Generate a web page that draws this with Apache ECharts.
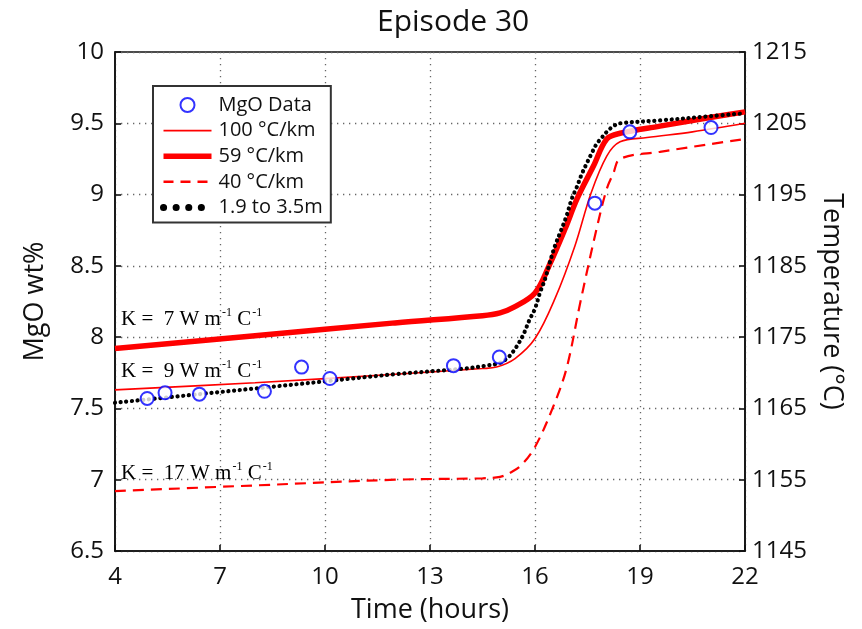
<!DOCTYPE html>
<html>
<head>
<meta charset="utf-8">
<script src="https://cdn.jsdelivr.net/npm/echarts@6/dist/echarts.min.js"></script>
<style>html,body{margin:0;padding:0;background:#fff}#c{width:862px;height:629px}</style>
</head>
<body>
<div id="c"></div>
<script>
// ---- data (hours, MgO wt%) ----
const dataHours = [4.92, 5.43, 6.41, 8.27, 9.33, 10.14, 13.67, 14.98, 17.71, 18.71, 21.03];
const dataMgO   = [7.57, 7.61, 7.60, 7.62, 7.79, 7.71, 7.80, 7.86, 8.94, 9.44, 9.47];

const k100Hours = [4, 8, 12, 14.5, 14.9, 15.43, 16.0, 16.57, 17.14, 17.6, 18.05, 18.43, 19.2, 20.5, 22];
const k100MgO   = [7.63, 7.68, 7.74, 7.78, 7.79, 7.85, 7.99, 8.27, 8.64, 9.01, 9.27, 9.37, 9.40, 9.44, 9.50];

const k59Hours = [4, 8, 12, 14.5, 15.0, 15.4, 16.0, 16.4, 16.86, 17.2, 17.67, 18.05, 18.43, 19.57, 21, 22];
const k59MgO   = [7.92, 8.01, 8.10, 8.15, 8.17, 8.21, 8.31, 8.50, 8.76, 8.97, 9.20, 9.39, 9.43, 9.48, 9.54, 9.58];

const k40Hours = [4, 8, 12, 14.5, 15.0, 15.3, 15.6, 16.0, 16.5, 16.9, 17.3, 17.76, 18.05, 18.24, 18.43, 19.57, 22];
const k40MgO   = [6.92, 6.96, 7.00, 7.01, 7.02, 7.05, 7.10, 7.23, 7.50, 7.78, 8.25, 8.76, 9.04, 9.15, 9.25, 9.30, 9.39];

const depthHours = [4, 6, 8, 10, 12, 14, 14.6, 15.0, 15.24, 15.38, 15.54, 15.69, 15.84, 16.0, 16.14, 16.29, 16.43, 16.57, 16.73, 16.90, 17.05, 17.19, 17.33, 17.48, 17.62, 17.76, 17.91, 18.05, 18.24, 18.43, 19.57, 21, 22];
const depthMgO   = [7.54, 7.59, 7.64, 7.69, 7.74, 7.78, 7.80, 7.82, 7.86, 7.90, 7.96, 8.03, 8.12, 8.20, 8.31, 8.41, 8.53, 8.64, 8.74, 8.85, 8.97, 9.05, 9.14, 9.22, 9.29, 9.355, 9.40, 9.44, 9.48, 9.50, 9.52, 9.55, 9.57];

const seriesNames = ['MgO Data', '100 \u00B0C/km', '59 \u00B0C/km', '40 \u00B0C/km', '1.9 to 3.5m'];
const kLabels = ['7', '9', '17'];

const pairs = (xs, ys) => xs.map((x, i) => [x, ys[i]]);

const FONT = '"Open Sans", "DejaVu Sans", sans-serif';
const SERIF = '"Liberation Serif", "DejaVu Serif", serif';
const RED = '#ff0000';

const chart = echarts.init(document.getElementById('c'), null, {renderer: 'canvas'});

function kText(k) {
  return '{a|K =  ' + k + ' W m}{s|-1}{a| C}{s|-1}';
}
const kRich = {
  a: {fontFamily: SERIF, fontSize: 21, color: '#111'},
  s: {fontFamily: SERIF, fontSize: 12, color: '#111', padding: [0, 0, 12, 1]}
};

const gridDot = {show: true, lineStyle: {color: '#666', width: 1.3, type: [1.3, 4.7]}};
const hideSym = {opacity: 0};

chart.setOption({
  animation: false,
  backgroundColor: '#fff',
  title: {
    text: 'Episode 30', left: 372, top: 2,
    textStyle: {fontFamily: FONT, fontSize: 30, fontWeight: 'normal', color: '#111'}
  },
  grid: {left: 115, right: 117, top: 52, bottom: 76, show: true, borderColor: '#111', borderWidth: 1.6, backgroundColor: 'transparent'},
  legend: {
    orient: 'vertical', left: 153, top: 86,
    padding: [7, 8, 3, 7], itemGap: 1.6, itemWidth: 48, itemHeight: 14,
    backgroundColor: '#fff', borderColor: '#333', borderWidth: 2, borderRadius: 0,
    textStyle: {fontFamily: FONT, fontSize: 20, lineHeight: 24, color: '#111', padding: [0, 0, 0, 2]},
    data: [
      {name: seriesNames[0], icon: 'emptyCircle', itemStyle: {borderWidth: 2.5}},
      {name: seriesNames[1], itemStyle: hideSym, lineStyle: {width: 1.6}},
      {name: seriesNames[2], itemStyle: hideSym, lineStyle: {width: 5.5}},
      {name: seriesNames[3], itemStyle: hideSym, lineStyle: {width: 2.4, type: [10, 7]}},
      {name: seriesNames[4], itemStyle: hideSym, lineStyle: {width: 7, type: [0.1, 12.5], cap: 'round'}}
    ]
  },
  xAxis: {
    type: 'value', min: 4, max: 22, interval: 3,
    name: 'Time (hours)', nameLocation: 'middle', nameGap: 46,
    nameTextStyle: {fontFamily: FONT, fontSize: 27, color: '#111'},
    axisLine: {lineStyle: {color: '#111', width: 1.6}},
    axisTick: {inside: true, length: 6, lineStyle: {color: '#111', width: 1.6}},
    axisLabel: {fontFamily: FONT, fontSize: 24, color: '#111', margin: 14},
    splitLine: gridDot
  },
  yAxis: [{
    type: 'value', min: 6.5, max: 10, interval: 0.5, position: 'left',
    name: 'MgO wt%', nameLocation: 'middle', nameGap: 66,
    nameTextStyle: {fontFamily: FONT, fontSize: 27, color: '#111'},
    axisLine: {show: true, lineStyle: {color: '#111', width: 1.6}},
    axisTick: {show: true, inside: true, length: 6, lineStyle: {color: '#111', width: 1.6}},
    axisLabel: {fontFamily: FONT, fontSize: 24, color: '#111', margin: 11},
    splitLine: gridDot
  }, {
    type: 'value', min: 1145, max: 1215, interval: 10, position: 'right',
    name: 'Temperature (\u00B0C)', nameLocation: 'middle', nameGap: 66, nameRotate: -90,
    nameTextStyle: {fontFamily: FONT, fontSize: 27, color: '#111'},
    axisLine: {show: true, lineStyle: {color: '#111', width: 1.6}},
    axisTick: {show: true, inside: true, length: 6, lineStyle: {color: '#111', width: 1.6}},
    axisLabel: {fontFamily: FONT, fontSize: 24, color: '#111', margin: 7, formatter: v => String(v)},
    splitLine: {show: false}
  }],
  graphic: [
    {type: 'text', left: 121, top: 307, z: 50, style: {text: kText(kLabels[0]), rich: kRich}},
    {type: 'text', left: 121, top: 359, z: 50, style: {text: kText(kLabels[1]), rich: kRich}},
    {type: 'text', left: 121, top: 461, z: 50, style: {text: kText(kLabels[2]), rich: kRich}}
  ],
  series: [
    {
      name: seriesNames[1], type: 'line', data: pairs(k100Hours, k100MgO),
      showSymbol: false, symbol: 'none', smooth: 0.35, z: 3,
      lineStyle: {color: RED, width: 1.6}, itemStyle: {color: RED}
    },
    {
      name: seriesNames[2], type: 'line', data: pairs(k59Hours, k59MgO),
      showSymbol: false, symbol: 'none', smooth: 0.35, z: 3,
      lineStyle: {color: RED, width: 5.5}, itemStyle: {color: RED}
    },
    {
      name: seriesNames[3], type: 'line', data: pairs(k40Hours, k40MgO),
      showSymbol: false, symbol: 'none', smooth: 0.35, z: 3,
      lineStyle: {color: RED, width: 2.2, type: [11, 7]}, itemStyle: {color: RED}
    },
    {
      name: seriesNames[4], type: 'line', data: pairs(depthHours, depthMgO),
      showSymbol: false, symbol: 'none', smooth: 0.35, z: 4,
      lineStyle: {color: '#000', width: 4.2, type: [0.1, 5.6], cap: 'round'}, itemStyle: {color: '#000'}
    },
    {
      name: seriesNames[0], type: 'scatter', data: pairs(dataHours, dataMgO),
      symbol: 'emptyCircle', symbolSize: 13, z: 5,
      itemStyle: {color: '#0000ff', borderColor: '#0000ff', borderWidth: 2.5}
    }
  ]
});
</script>
</body>
</html>
